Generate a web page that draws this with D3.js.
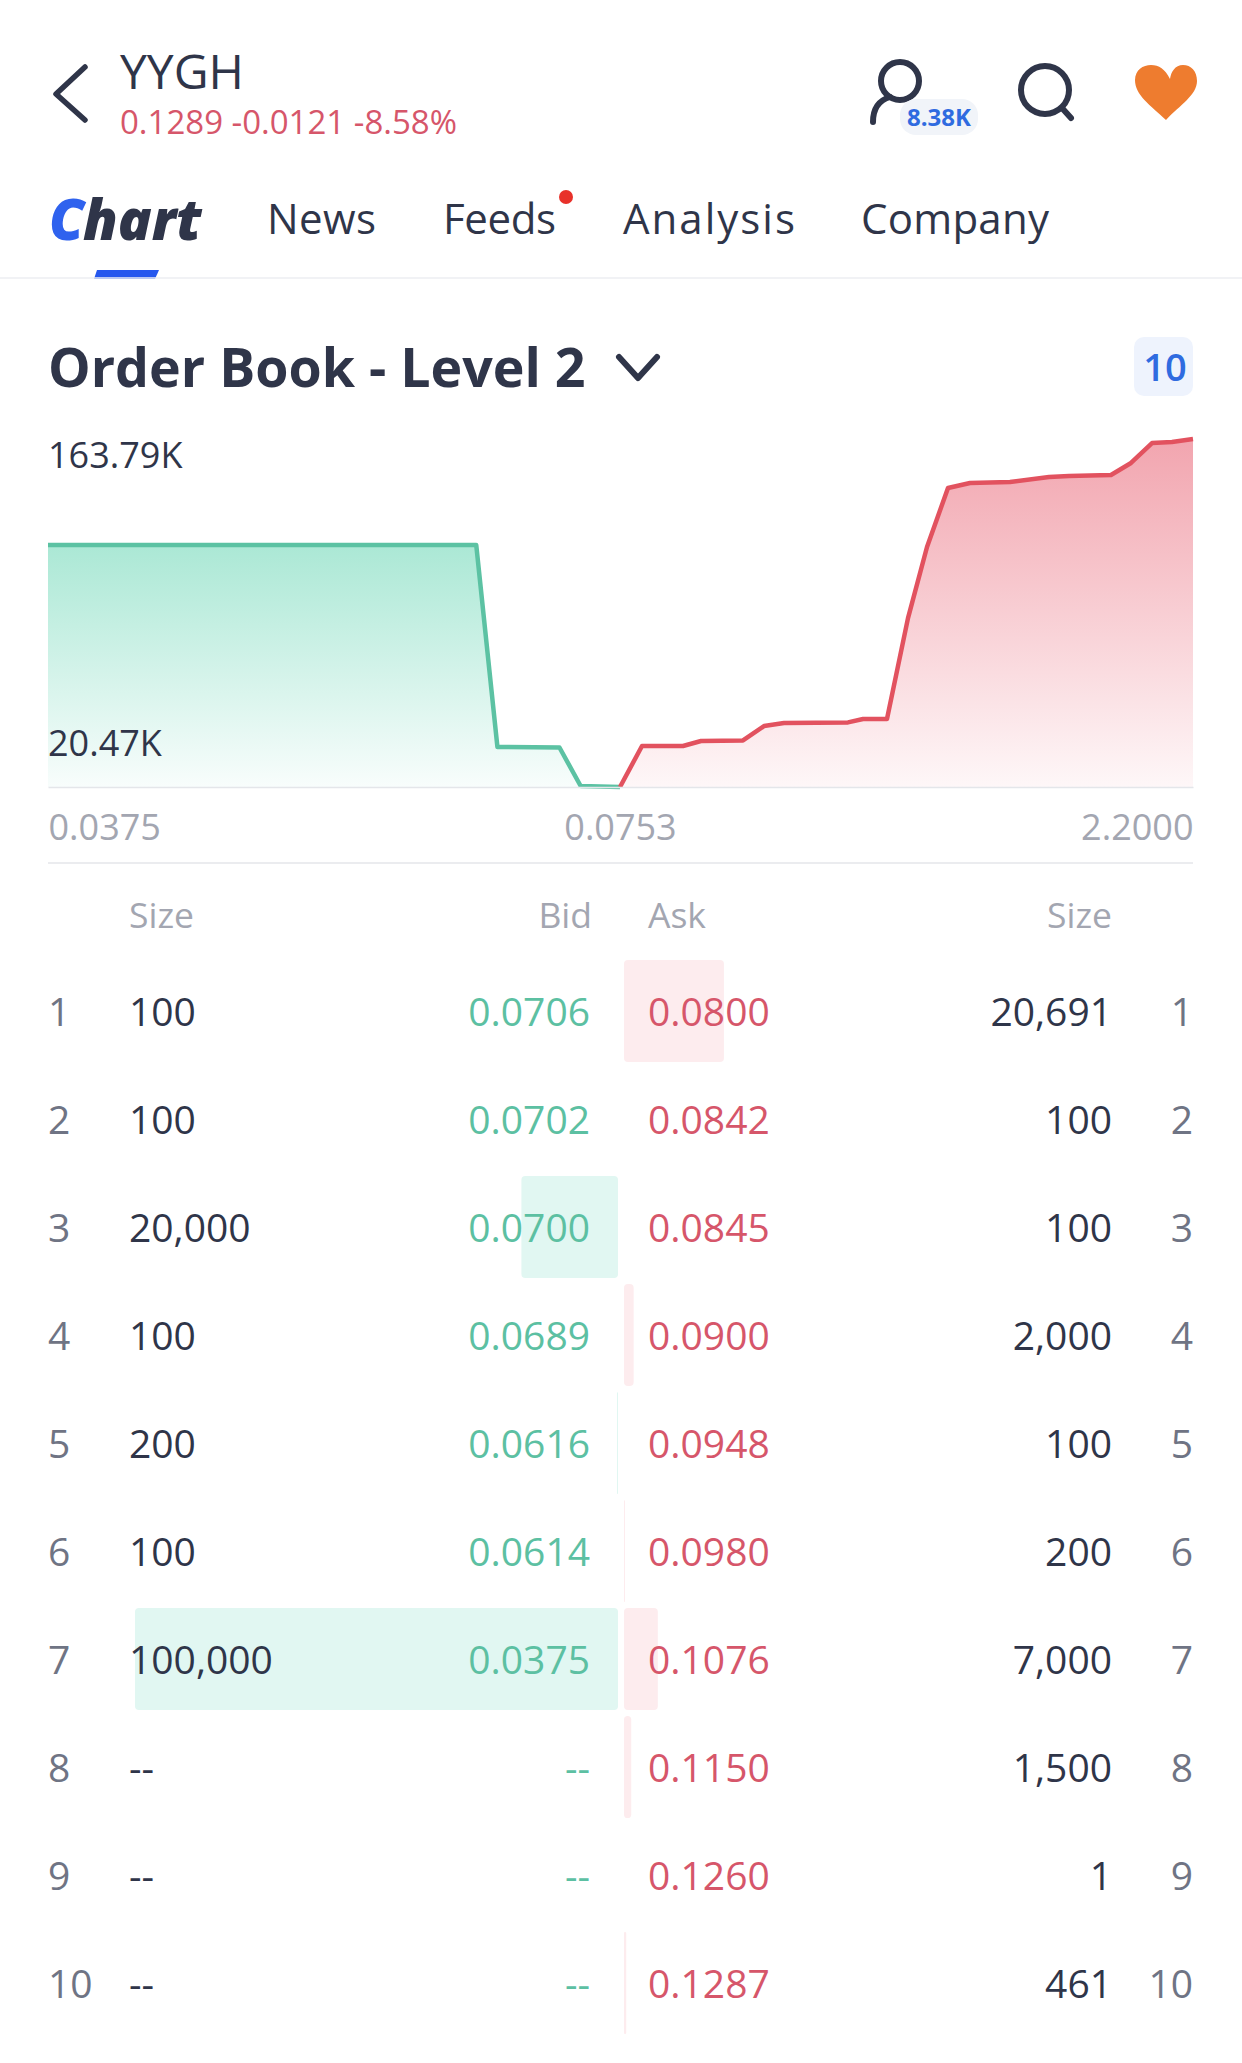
<!DOCTYPE html>
<html>
<head>
<meta charset="utf-8">
<style>
  html, body { margin: 0; padding: 0; background: #fff; }
  svg { display: block; }
  text { font-family: "Open Sans", "Noto Sans", sans-serif; }
</style>
<script src="https://cdn.jsdelivr.net/npm/d3@7"></script>
</head>
<body>
<div id="wrapper"></div>
<script>
const TICKER = "YYGH";
const QUOTE = "0.1289 -0.0121 -8.58%";
const TABS = ["News", "Feeds", "Analysis", "Company"];
const TAB_X = [267, 443, 623, 861];
const TAB_W = [109, 113, 172, 188];

// depth curve
const BID_PRICE = [0.0375, 0.0658, 0.0672, 0.0713, 0.0727, 0.0753];
const BID_DEPTH = [113900, 113900, 18830, 18600, 470, 0];
const ASK_PRICE = [0.0753, 0.1569, 0.3089, 0.3757, 0.5314, 0.6093, 0.6834, 0.9207, 0.9764, 1.0653, 1.1432, 1.2137, 1.2915, 1.3731, 1.5214, 1.6661, 1.7402, 1.8959, 1.9701, 2.0480, 2.1221, 2.2000];
const ASK_DEPTH = [0, 19300, 19300, 21650, 21900, 28700, 30100, 30400, 32000, 32000, 79500, 112960, 140730, 143080, 143550, 145900, 146400, 146850, 152500, 161900, 162400, 163790];
const DEPTH_LABELS = [163790, 20470];
const DEPTH_TEXT = ["163.79K", "20.47K"];
const PRICE_TICKS = [0.0375, 0.0753, 2.2];

// order book table
const LEVELS = [1, 2, 3, 4, 5, 6, 7, 8, 9, 10];
const BID_SIZE = [100, 100, 20000, 100, 200, 100, 100000, null, null, null];
const BID = ["0.0706", "0.0702", "0.0700", "0.0689", "0.0616", "0.0614", "0.0375", null, null, null];
const ASK = ["0.0800", "0.0842", "0.0845", "0.0900", "0.0948", "0.0980", "0.1076", "0.1150", "0.1260", "0.1287"];
const ASK_SIZE = [20691, 100, 100, 2000, 100, 200, 7000, 1500, 1, 461];

const INK = "#2f3549", GREY = "#a3a6b1", IDX = "#6f7484";
const GREEN = "#5cc0a2", RED = "#d6566a", BLUE = "#2f6be0";

const svg = d3.select("#wrapper").append("svg")
    .attr("width", 1242).attr("height", 2063);

function label(str, x, y, size, fill, anchor, weight) {
    return svg.append("text")
        .attr("x", x).attr("y", y)
        .attr("font-size", size)
        .attr("fill", fill)
        .attr("text-anchor", anchor || "start")
        .attr("font-weight", weight || 400)
        .text(str);
}

function stroke(d, color, w) {
    return svg.append("path").attr("d", d)
        .attr("fill", "none").attr("stroke", color)
        .attr("stroke-width", w)
        .attr("stroke-linecap", "round").attr("stroke-linejoin", "round");
}

// ---- header
stroke("M85 67L56 94L85 120", INK, 5.5);
label(TICKER, 120, 89, 48, INK);
label(QUOTE, 120, 134, 33, RED);

stroke("M873 122C873 108 880 100 890 97", INK, 6);
svg.append("circle").attr("cx", 900).attr("cy", 81).attr("r", 19)
    .attr("fill", "none").attr("stroke", INK).attr("stroke-width", 6);
svg.append("rect").attr("x", 900).attr("y", 99).attr("width", 78).attr("height", 36).attr("rx", 16).attr("fill", "#f1f4f9");
label("8.38K", 939, 126, 24, BLUE, "middle", 700);

svg.append("circle").attr("cx", 1045).attr("cy", 90).attr("r", 24)
    .attr("fill", "none").attr("stroke", INK).attr("stroke-width", 6);
stroke("M1062 108L1071 118", INK, 6);

svg.append("path")
    .attr("d", "M1166 120C1150 105 1135 95 1135 80C1135 70 1143 65 1151 65C1159 65 1165 69 1170 79C1171 72 1175 65 1183 65C1191 65 1197 71 1197 81C1197 95 1180 105 1166 120Z")
    .attr("fill", "#ee7c2f");

// ---- tabs
label("C", 49, 240, 56, "#2f62ee", "start", 800).attr("font-style", "italic");
label("hart", 83, 240, 56, INK, "start", 800).attr("font-style", "italic");
TABS.forEach((t, i) => label(t, TAB_X[i], 234, 42, INK)
    .attr("textLength", TAB_W[i]).attr("lengthAdjust", "spacing"));
svg.append("circle").attr("cx", 566).attr("cy", 197).attr("r", 7).attr("fill", "#e8312a");
svg.append("path").attr("d", "M97 270H159L155 279H94Z").attr("fill", "#2557ee");
svg.append("line").attr("x1", 0).attr("x2", 1242).attr("y1", 278).attr("y2", 278).attr("stroke", "#eceef2").attr("stroke-width", 1.5);

// ---- title
label("Order Book - Level 2", 48, 387, 53.7, INK, "start", 700);
stroke("M619 357L638 378L657 357", INK, 6);
svg.append("rect").attr("x", 1134).attr("y", 337).attr("width", 59).attr("height", 59).attr("rx", 10).attr("fill", "#eef3fd");
label("10", 1165, 381, 38, BLUE, "middle", 600);

// ---- depth chart
const x = d3.scaleLinear().domain(PRICE_TICKS).range([48, 620, 1193]);
const y = d3.scaleLinear().domain([0, 163790]).range([787, 439]);

const defs = svg.append("defs");
function gradient(id, top, bottom) {
    const g = defs.append("linearGradient").attr("id", id)
        .attr("x1", 0).attr("x2", 0).attr("y1", 0).attr("y2", 1);
    g.append("stop").attr("offset", 0).attr("stop-color", top);
    g.append("stop").attr("offset", 1).attr("stop-color", bottom);
}
gradient("bidFill", "#abe8d5", "#f8fdfc");
gradient("askFill", "#f2a5af", "#fef7f8");

function depth(prices, values, color, fill, w) {
    const pts = prices.map((p, i) => [p, values[i]]);
    svg.append("path")
        .attr("d", d3.area().x(d => x(d[0])).y0(y(0)).y1(d => y(d[1]))(pts))
        .attr("fill", `url(#${fill})`);
    svg.append("path")
        .attr("d", d3.line().x(d => x(d[0])).y(d => y(d[1]))(pts))
        .attr("fill", "none").attr("stroke", color).attr("stroke-width", w)
        .attr("stroke-linejoin", "round");
}
depth(BID_PRICE, BID_DEPTH, "#5cc2a3", "bidFill", 4.5);
depth(ASK_PRICE, ASK_DEPTH, "#e2525f", "askFill", 4.5);

const axis = svg.append("g").attr("transform", "translate(0,787)")
    .call(d3.axisBottom(x).tickValues(PRICE_TICKS).tickSize(0).tickPadding(27).tickFormat(d3.format(".4f")));
axis.select(".domain").attr("stroke", "#e4e6ea").attr("stroke-width", 1.5);
axis.selectAll("text")
    .attr("font-size", 36).attr("fill", GREY)
    .style("font-family", '"Open Sans", "Noto Sans", sans-serif')
    .attr("text-anchor", (d, i) => ["start", "middle", "end"][i])
    .attr("dy", "0.71em");

DEPTH_LABELS.forEach((v, i) => label(DEPTH_TEXT[i], 48, y(v) + (i ? 12 : 29), 36, INK));

svg.append("line").attr("x1", 48).attr("x2", 1193).attr("y1", 863).attr("y2", 863).attr("stroke", "#e4e6ea").attr("stroke-width", 1.5);

// ---- table
const head = 928;
label("Size", 129, head, 35.5, GREY);
label("Bid", 592, head, 35.5, GREY, "end");
label("Ask", 648, head, 35.5, GREY);
label("Size", 1112, head, 35.5, GREY, "end");

const rowY = d3.scalePoint().domain(LEVELS).range([1012, 1984]);
const barW = d3.scaleLinear().domain([0, 100000]).range([0, 483]);
const fmt = d3.format(",");
const BAR_H = 102;

// bars go under the text
LEVELS.forEach((lv, i) => {
    const top = rowY(lv) - BAR_H / 2 - 1;
    if (BID_SIZE[i] > 100) {
        const w = barW(BID_SIZE[i]);
        svg.append("rect").attr("x", 618 - w).attr("y", top).attr("width", w).attr("height", BAR_H)
            .attr("rx", Math.min(4, w / 2)).attr("fill", "#e1f7f2");
    }
    if (ASK_SIZE[i] > 100) {
        const w = barW(ASK_SIZE[i]);
        svg.append("rect").attr("x", 624).attr("y", top).attr("width", w).attr("height", BAR_H)
            .attr("rx", Math.min(4, w / 2)).attr("fill", "#fdecee");
    }
});

LEVELS.forEach((lv, i) => {
    const base = rowY(lv) + 14;
    label(lv, 48, base, 39, IDX);
    label(BID_SIZE[i] == null ? "--" : fmt(BID_SIZE[i]), 129, base, 39, INK);
    label(BID[i] == null ? "--" : BID[i], 590, base, 39, GREEN, "end");
    label(ASK[i], 648, base, 39, RED);
    label(fmt(ASK_SIZE[i]), 1112, base, 39, INK, "end");
    label(lv, 1193, base, 39, IDX, "end");
});
</script>
</body>
</html>
